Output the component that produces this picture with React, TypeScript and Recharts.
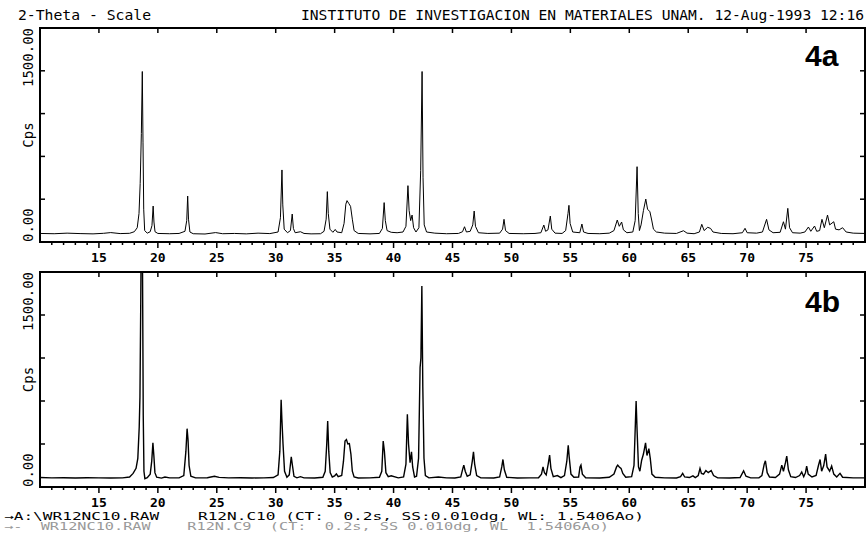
import React from "react";
import { Label, Line, LineChart, ReferenceArea, XAxis, YAxis } from "recharts";

// 2-theta / cps pairs, panel 4a
const patternA: [number, number][] = [
  [10, 60], [11.2, 58], [12.3, 62], [13.4, 59], [14.5, 57], [15.4, 61], [16.0, 66], [16.8, 59],
  [17.6, 61], [18.0, 72], [18.25, 100], [18.4, 200], [18.5, 410], [18.6, 760], [18.68, 1195],
  [18.74, 700], [18.8, 230], [18.88, 80], [19.1, 62], [19.35, 72], [19.5, 115], [19.6, 252],
  [19.67, 140], [19.76, 72], [20.0, 60], [21.0, 58], [21.8, 60], [22.3, 75], [22.45, 150],
  [22.53, 322], [22.6, 160], [22.72, 70], [23.0, 58], [24.0, 56], [24.9, 66], [25.5, 58],
  [26.5, 60], [27.5, 57], [28.5, 62], [29.5, 59], [30.2, 70], [30.4, 170], [30.53, 505],
  [30.6, 260], [30.72, 90], [31.0, 65], [31.25, 80], [31.4, 196], [31.5, 95], [31.65, 65],
  [32.1, 72], [32.4, 60], [33.0, 57], [33.8, 58], [34.1, 75], [34.28, 160], [34.38, 353],
  [34.46, 200], [34.6, 90], [34.85, 68], [35.05, 88], [35.2, 70], [35.6, 65], [35.8, 130],
  [35.95, 265], [36.05, 290], [36.2, 270], [36.35, 250], [36.5, 160], [36.65, 80], [37.0, 60],
  [38.0, 57], [38.8, 60], [39.05, 95], [39.2, 276], [39.3, 150], [39.45, 80], [39.8, 68],
  [40.3, 65], [40.8, 70], [41.05, 110], [41.22, 395], [41.32, 220], [41.45, 150], [41.57, 189],
  [41.7, 100], [41.9, 70], [42.15, 100], [42.3, 500], [42.42, 1195], [42.5, 450], [42.6, 120],
  [42.8, 70], [43.5, 62], [44.5, 58], [45.5, 60], [45.85, 72], [46.02, 107], [46.18, 70],
  [46.5, 75], [46.72, 120], [46.84, 217], [46.95, 110], [47.2, 65], [48.0, 60], [49.0, 62],
  [49.25, 90], [49.37, 159], [49.5, 80], [49.8, 60], [51.0, 58], [52.0, 60], [52.5, 65],
  [52.75, 119], [52.9, 75], [53.1, 85], [53.3, 182], [53.42, 90], [53.7, 62], [54.3, 60],
  [54.6, 80], [54.8, 200], [54.88, 257], [54.98, 130], [55.2, 70], [55.8, 65], [55.98, 126],
  [56.12, 70], [56.5, 60], [57.5, 58], [58.3, 62], [58.7, 80], [58.98, 154], [59.15, 110],
  [59.35, 140], [59.5, 85], [59.8, 65], [60.3, 70], [60.5, 150], [60.66, 528], [60.76, 200],
  [60.86, 80], [61.0, 120], [61.2, 220], [61.4, 301], [61.55, 230], [61.75, 212], [61.9, 154],
  [62.05, 90], [62.3, 70], [63.0, 62], [64.0, 60], [64.6, 79], [64.9, 62], [65.5, 58],
  [65.95, 70], [66.15, 124], [66.35, 80], [66.65, 103], [66.9, 95], [67.1, 70], [67.8, 60],
  [68.8, 58], [69.6, 65], [69.82, 96], [70.0, 65], [70.8, 62], [71.3, 70], [71.65, 159],
  [71.85, 85], [72.2, 65], [72.8, 68], [73.08, 142], [73.25, 90], [73.45, 236], [73.6, 100],
  [73.85, 65], [74.5, 62], [74.9, 70], [75.2, 105], [75.4, 75], [75.72, 112], [75.9, 75],
  [76.15, 80], [76.35, 159], [76.55, 100], [76.82, 189], [77.0, 120], [77.35, 142], [77.5, 90],
  [77.8, 85], [78.1, 100], [78.4, 70], [79.0, 62], [80.0, 60],
];

// panel 4b
const patternB: [number, number][] = [
  [10, 66], [11, 64], [12, 65], [13, 63], [14, 65], [15, 64], [16, 63], [17, 64], [17.6, 70],
  [17.9, 95], [18.15, 130], [18.3, 200], [18.42, 420], [18.48, 627], [18.55, 1300], [18.62, 2100],
  [18.7, 1500], [18.76, 500], [18.82, 110], [18.9, 58], [19.1, 65], [19.35, 90], [19.48, 180],
  [19.58, 308], [19.66, 220], [19.75, 100], [19.9, 68], [20.3, 62], [20.6, 70], [21.0, 64],
  [21.8, 64], [22.2, 80], [22.38, 250], [22.48, 407], [22.56, 330], [22.65, 150], [22.8, 75],
  [23.2, 64], [24.2, 65], [24.8, 75], [25.2, 67], [26, 64], [27, 65], [28, 63], [29, 64],
  [29.8, 66], [30.2, 85], [30.35, 250], [30.46, 609], [30.52, 480], [30.62, 300], [30.75, 110],
  [30.95, 68], [31.15, 85], [31.32, 211], [31.42, 150], [31.55, 75], [31.8, 64], [32.1, 72],
  [32.4, 64], [33.3, 63], [34.0, 68], [34.2, 110], [34.33, 300], [34.41, 460], [34.5, 250],
  [34.62, 100], [34.8, 70], [35.0, 78], [35.15, 92], [35.3, 72], [35.6, 80], [35.75, 180],
  [35.88, 320], [36.0, 331], [36.12, 300], [36.25, 303], [36.38, 230], [36.5, 110], [36.65, 70],
  [37, 63], [38, 64], [38.8, 68], [39.0, 110], [39.12, 321], [39.22, 250], [39.35, 100],
  [39.55, 72], [39.8, 78], [40.4, 64], [40.85, 70], [41.05, 160], [41.17, 507], [41.27, 300],
  [41.4, 170], [41.52, 245], [41.62, 140], [41.78, 70], [41.95, 75], [42.12, 200], [42.25, 835],
  [42.32, 900], [42.4, 1402], [42.48, 700], [42.58, 200], [42.7, 80], [43, 64], [43.8, 70],
  [44.5, 64], [45.2, 63], [45.7, 70], [45.88, 130], [45.96, 153], [46.08, 110], [46.25, 75],
  [46.5, 85], [46.68, 180], [46.78, 245], [46.88, 160], [47.05, 80], [47.4, 64], [48.5, 63],
  [49.0, 70], [49.18, 140], [49.28, 192], [49.4, 120], [49.6, 68], [50.5, 63], [51.5, 64],
  [52.3, 65], [52.55, 90], [52.68, 141], [52.8, 100], [52.95, 85], [53.12, 160], [53.24, 222],
  [53.35, 130], [53.55, 72], [53.9, 80], [54.2, 65], [54.5, 80], [54.7, 180], [54.82, 291],
  [54.9, 210], [55.05, 90], [55.3, 68], [55.7, 70], [55.82, 140], [55.9, 153], [56.02, 90],
  [56.3, 65], [57.5, 63], [58.3, 68], [58.7, 90], [58.92, 140], [59.02, 153], [59.15, 140],
  [59.3, 130], [59.45, 95], [59.7, 68], [60.2, 72], [60.4, 150], [60.52, 450], [60.58, 599],
  [60.66, 400], [60.78, 140], [60.9, 110], [61.05, 187], [61.2, 230], [61.38, 308], [61.5, 220],
  [61.66, 268], [61.78, 200], [61.92, 90], [62.2, 68], [63, 64], [64.0, 63], [64.35, 72],
  [64.53, 95], [64.7, 70], [65.1, 66], [65.4, 78], [65.6, 66], [65.85, 80], [66.0, 130],
  [66.12, 95], [66.3, 90], [66.5, 115], [66.7, 100], [66.95, 115], [67.15, 80], [67.5, 64],
  [68.5, 63], [69.4, 66], [69.7, 113], [69.9, 75], [70.3, 64], [71.0, 64], [71.25, 80],
  [71.45, 160], [71.55, 183], [71.7, 100], [71.9, 70], [72.4, 66], [72.75, 90], [72.94, 153],
  [73.08, 110], [73.25, 170], [73.36, 215], [73.5, 120], [73.7, 72], [74.1, 66], [74.45, 80],
  [74.63, 104], [74.8, 72], [74.95, 100], [75.05, 146], [75.18, 90], [75.5, 70], [75.85, 80],
  [76.05, 150], [76.19, 192], [76.32, 110], [76.5, 150], [76.66, 229], [76.78, 140], [77.0, 110],
  [77.17, 146], [77.35, 90], [77.6, 70], [77.88, 95], [78.1, 68], [79, 64], [80, 64],
];

const xTicks = [
  11, 12, 13, 14, 15, 16, 17, 18, 19, 20, 21, 22, 23, 24, 25, 26, 27, 28, 29, 30, 31, 32, 33, 34,
  35, 36, 37, 38, 39, 40, 41, 42, 43, 44, 45, 46, 47, 48, 49, 50, 51, 52, 53, 54, 55, 56, 57, 58,
  59, 60, 61, 62, 63, 64, 65, 66, 67, 68, 69, 70, 71, 72, 73, 74, 75, 76, 77, 78, 79,
];
const xLabels = [15, 20, 25, 30, 35, 40, 45, 50, 55, 60, 65, 70, 75];
const yTicks = [0, 300, 600, 900, 1200, 1500];
const yLabels = [0, 1500];

const header = "2-Theta - Scale";
const institute = "INSTITUTO DE INVESTIGACION EN MATERIALES UNAM. 12-Aug-1993 12:16";
const footer1 = "\u2192A:\\WR12NC10.RAW    R12N.C10 (CT:  0.2s, SS:0.010dg, WL: 1.5406Ao)";
const footer2 = "\u2192-  WR12NC10.RAW    R12N.C9  (CT:  0.2s, SS 0.010dg, WL  1.5406Ao)";

const MONO = "'DejaVu Sans Mono', 'Liberation Mono', monospace";
const PLOT_W = 825;

const toRows = (p: [number, number][]) => p.map(([t, c]) => ({ t, c }));

const BottomTick = (props: any) => {
  const { x, y, payload, plotH } = props;
  const v = payload.value;
  const major = xLabels.includes(v);
  return (
    <g>
      <line x1={x} x2={x} y1={y} y2={y + (major ? 6 : 3)} stroke="#000" strokeWidth={1.5} />
      {major && <line x1={x} x2={x} y1={y - plotH} y2={y - plotH + 5} stroke="#000" strokeWidth={1.5} />}
      {major && (
        <text x={x} y={y + 20} textAnchor="middle" fontFamily={MONO} fontWeight="bold" fontSize={13} fill="#000">
          {v}
        </text>
      )}
    </g>
  );
};

const LeftTick = (props: any) => {
  const { x, y, payload } = props;
  const v = payload.value;
  const labelled = yLabels.includes(v);
  const lx = x - 12;
  return (
    <g>
      {!labelled && <line x1={x} x2={x + 5} y1={y} y2={y} stroke="#000" strokeWidth={1.5} />}
      {!labelled && <line x1={x + PLOT_W} x2={x + PLOT_W - 5} y1={y} y2={y} stroke="#000" strokeWidth={1.5} />}
      {labelled && (
        <text
          x={lx}
          y={y}
          transform={`rotate(-90 ${lx} ${y})`}
          textAnchor={v === 0 ? "start" : "end"}
          dominantBaseline="central"
          fontFamily={MONO}
          fontSize={14}
          fill="#000"
        >
          {v.toFixed(2)}
        </text>
      )}
    </g>
  );
};

const CpsLabel = (props: any) => {
  const vb = props.viewBox || {};
  const cx = vb.x + vb.width - 12;
  const cy = vb.y + vb.height / 2;
  return (
    <text
      x={cx}
      y={cy}
      transform={`rotate(-90 ${cx} ${cy})`}
      textAnchor="middle"
      dominantBaseline="central"
      fontFamily={MONO}
      fontSize={14}
      fill="#000"
    >
      Cps
    </text>
  );
};

const Panel = ({
  rows,
  height,
  top,
  xHeight,
  plotH,
  strokeWidth,
}: {
  rows: { t: number; c: number }[];
  height: number;
  top: number;
  xHeight: number;
  plotH: number;
  strokeWidth: number;
}) => (
  <LineChart width={866} height={height} data={rows} margin={{ top, right: 1, bottom: 0, left: 0 }}>
    <XAxis
      dataKey="t"
      type="number"
      domain={[10, 80]}
      ticks={xTicks}
      interval={0}
      allowDataOverflow
      axisLine={false}
      tickLine={false}
      tickSize={0}
      tickMargin={0}
      height={xHeight}
      tick={(p: any) => <BottomTick {...p} plotH={plotH} />}
    />
    <YAxis
      type="number"
      domain={[0, 1500]}
      ticks={yTicks}
      interval={0}
      allowDataOverflow
      axisLine={false}
      tickLine={false}
      tickSize={0}
      tickMargin={0}
      width={40}
      tick={(p: any) => <LeftTick {...p} />}
    >
      <Label content={CpsLabel} />
    </YAxis>
    <Line
      type="linear"
      dataKey="c"
      stroke="#000"
      strokeWidth={strokeWidth}
      dot={false}
      activeDot={false}
      isAnimationActive={false}
    />
    <ReferenceArea x1={10} x2={80} y1={0} y2={1500} fill="none" stroke="#000" strokeWidth={2} />
  </LineChart>
);

export default function App() {
  return (
    <div
      style={{
        position: "absolute",
        left: 0,
        top: 0,
        width: 866,
        height: 533,
        background: "#fff",
        overflow: "hidden",
      }}
    >
      <div style={{ position: "absolute", left: 0, top: 0 }}>
        <Panel rows={toRows(patternA)} height={270} top={28} xHeight={28} plotH={214} strokeWidth={1} />
      </div>
      <div style={{ position: "absolute", left: 0, top: 262 }}>
        <Panel rows={toRows(patternB)} height={253} top={10} xHeight={28} plotH={215} strokeWidth={1.4} />
      </div>
      <svg width={866} height={533} style={{ position: "absolute", left: 0, top: 0, pointerEvents: "none" }}>
        <text x={18} y={20} fontFamily={MONO} fontSize={14} textLength={133} lengthAdjust="spacingAndGlyphs">
          {header}
        </text>
        <text x={301} y={20} fontFamily={MONO} fontSize={14} textLength={563} lengthAdjust="spacingAndGlyphs">
          {institute}
        </text>
        <text x={805} y={66} fontFamily="'Liberation Sans', Arial, sans-serif" fontWeight="bold" fontSize={30}>
          4a
        </text>
        <text x={805} y={312} fontFamily="'Liberation Sans', Arial, sans-serif" fontWeight="bold" fontSize={30}>
          4b
        </text>
        <text
          x={4}
          y={520}
          fontFamily={MONO}
          fontSize={10}
          textLength={640}
          lengthAdjust="spacingAndGlyphs"
          style={{ whiteSpace: "pre" }}
        >
          {footer1}
        </text>
        <text
          x={4}
          y={530}
          fontFamily={MONO}
          fontSize={10}
          fill="#999"
          textLength={605}
          lengthAdjust="spacingAndGlyphs"
          style={{ whiteSpace: "pre" }}
        >
          {footer2}
        </text>
      </svg>
    </div>
  );
}
